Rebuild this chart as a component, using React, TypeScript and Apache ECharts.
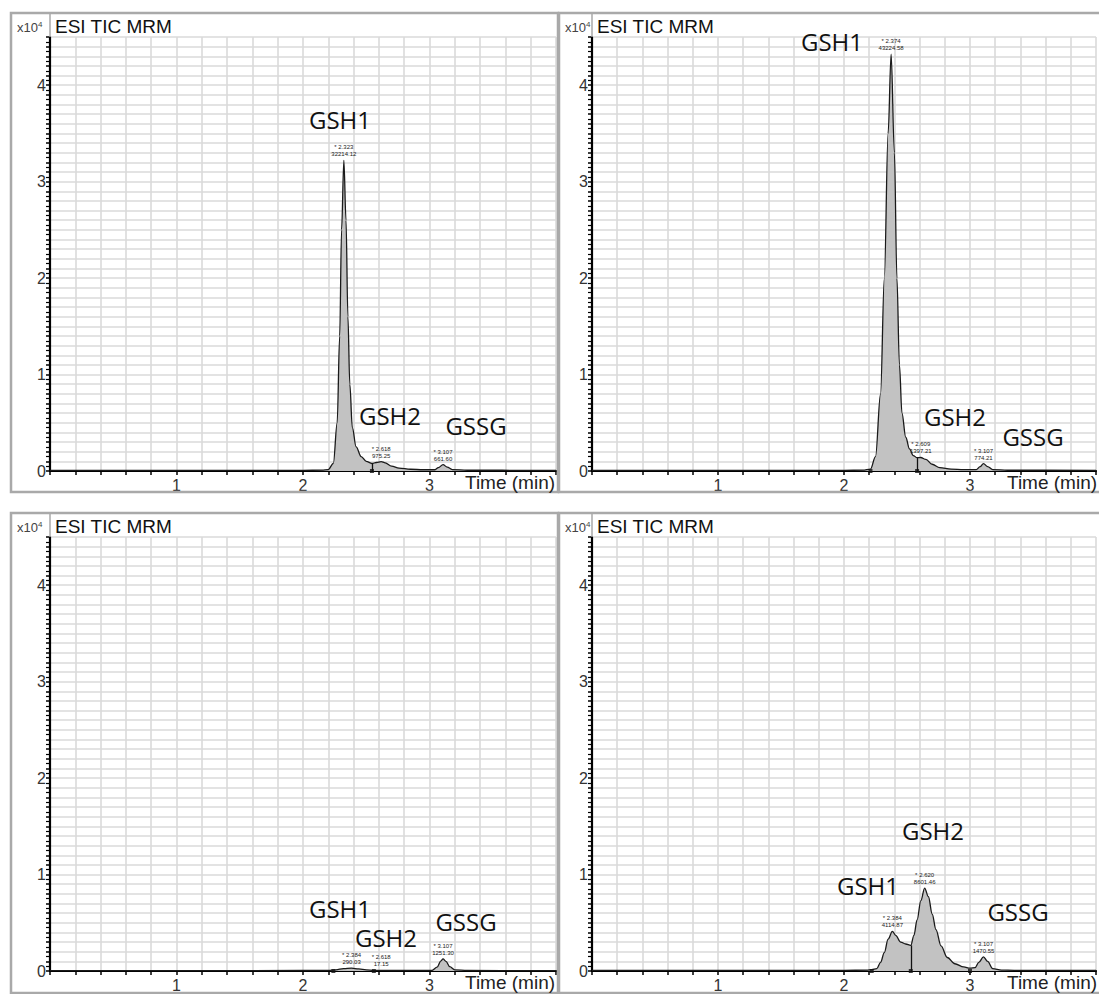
import React, { useEffect, useRef } from "react";
import * as echarts from "echarts";

// ---------- axis definitions ----------
const xMin = 0;
const xMax = 4;
const xStep = 0.2;
const xLabelValues = [1, 2, 3];
const yMin = 0;
const yMax = 45000;
const yStep = 1000;
const yLabelValues = [0, 10000, 20000, 30000, 40000];

// ---------- traces (time in min, counts) ----------
const trace1: [number, number][] = [
  [0.0, 60], [1.0, 60], [2.0, 70], [2.15, 90], [2.2, 150], [2.24, 800], [2.27, 5000],
  [2.29, 14000], [2.305, 25000], [2.323, 32214], [2.34, 26000], [2.355, 16000],
  [2.37, 9000], [2.39, 4500], [2.42, 2500], [2.46, 1500], [2.5, 1000], [2.545, 780],
  [2.58, 880], [2.618, 975], [2.65, 850], [2.7, 500], [2.76, 300], [2.85, 180],
  [2.95, 130], [3.04, 130], [3.07, 350], [3.107, 662], [3.14, 400], [3.18, 150],
  [3.3, 80], [4.0, 60],
];
const trace2: [number, number][] = [
  [0.0, 60], [1.0, 60], [2.0, 70], [2.15, 90], [2.21, 200], [2.25, 1500], [2.29, 8000],
  [2.32, 20000], [2.35, 35000], [2.374, 43225], [2.4, 33000], [2.42, 20000],
  [2.44, 11000], [2.46, 6000], [2.49, 3500], [2.52, 2300], [2.55, 1600], [2.58, 1380],
  [2.609, 1400], [2.65, 1200], [2.7, 700], [2.76, 350], [2.85, 200], [2.95, 150],
  [3.05, 150], [3.08, 450], [3.107, 774], [3.14, 450], [3.18, 150], [3.3, 80], [4.0, 60],
];
const trace3: [number, number][] = [
  [0.0, 40], [2.0, 50], [2.2, 60], [2.26, 120], [2.32, 250], [2.384, 290], [2.44, 220],
  [2.5, 120], [2.56, 70], [2.618, 60], [2.7, 50], [3.02, 60], [3.06, 400], [3.09, 1050],
  [3.107, 1251], [3.13, 1000], [3.16, 450], [3.2, 120], [3.3, 50], [4.0, 40],
];
const trace4: [number, number][] = [
  [0.0, 60], [2.0, 70], [2.18, 90], [2.22, 150], [2.26, 250], [2.29, 900], [2.32, 1900],
  [2.35, 3300], [2.384, 4115], [2.41, 3700], [2.45, 3000], [2.49, 2800], [2.53, 2650],
  [2.555, 3700], [2.58, 5300], [2.61, 7300], [2.64, 8601], [2.67, 7700], [2.7, 5900],
  [2.73, 4300], [2.77, 2600], [2.82, 1400], [2.88, 750], [2.95, 420], [3.0, 300],
  [3.04, 350], [3.07, 900], [3.107, 1470], [3.14, 1000], [3.18, 250], [3.25, 100],
  [3.35, 70], [4.0, 60],
];

// ---------- peak annotations: [time, height, label] ----------
const peaks1: [number, number, string][] = [
  [2.323, 32214, "* 2.323\n32214.12"], [2.618, 975, "* 2.618\n975.25"], [3.107, 662, "* 3.107\n661.60"],
];
const peaks2: [number, number, string][] = [
  [2.374, 43225, "* 2.374\n43224.58"], [2.609, 1400, "* 2.609\n1397.21"], [3.107, 774, "* 3.107\n774.21"],
];
const peaks3: [number, number, string][] = [
  [2.384, 290, "* 2.384\n290.03"], [2.618, 60, "* 2.618\n17.15"], [3.107, 1251, "* 3.107\n1251.30"],
];
const peaks4: [number, number, string][] = [
  [2.384, 4115, "* 2.384\n4114.87"], [2.64, 8601, "* 2.620\n8601.46"], [3.107, 1470, "* 3.107\n1470.55"],
];

// ---------- integration markers (baseline points) and drop lines ----------
const markers1 = [2.545];
const markers2 = [2.21, 2.58];
const markers3 = [2.24, 2.56];
const markers4 = [2.22, 2.53, 3.0];
const drops1: [number, number][] = [[2.545, 780]];
const drops2: [number, number][] = [[2.58, 1380]];
const drops3: [number, number][] = [];
const drops4: [number, number][] = [[2.53, 2650]];

// ---------- compound names ----------
const names = ["GSH1", "GSH2", "GSSG"];

const panels = [
  { trace: trace1, peaks: peaks1, markers: markers1, drops: drops1,
    grid: { left: 50, top: 37, width: 506, height: 434 }, frame: [11, 13, 547, 479],
    nameCenters: [[340, 119], [390, 415], [476, 425]] },
  { trace: trace2, peaks: peaks2, markers: markers2, drops: drops2,
    grid: { left: 592, top: 37, width: 514, height: 434 }, frame: [559, 13, 560, 479],
    nameCenters: [[832, 41], [955, 416], [1033, 436]] },
  { trace: trace3, peaks: peaks3, markers: markers3, drops: drops3,
    grid: { left: 50, top: 537, width: 506, height: 434 }, frame: [11, 513, 547, 480],
    nameCenters: [[340, 908], [386, 937], [466, 921]] },
  { trace: trace4, peaks: peaks4, markers: markers4, drops: drops4,
    grid: { left: 592, top: 537, width: 514, height: 434 }, frame: [559, 513, 560, 480],
    nameCenters: [[868, 885], [933, 830], [1018, 911]] },
];

const AXIS_FONT = "'Liberation Sans', Arial, sans-serif";
const isInt = (v: number) => Math.abs(v - Math.round(v)) < 1e-6;

export default function App() {
  const ref = useRef<HTMLDivElement>(null);
  useEffect(() => {
    if (!ref.current) return;
    const chart = echarts.init(ref.current, undefined, { renderer: "svg" });
    const grids: any[] = [];
    const xAxes: any[] = [];
    const yAxes: any[] = [];
    const series: any[] = [];
    const graphic: any[] = [];

    panels.forEach((p, i) => {
      grids.push({ ...p.grid, containLabel: false });
      xAxes.push({
        gridIndex: i, type: "value", min: xMin, max: xMax, interval: xStep,
        axisLine: { onZero: false, lineStyle: { color: "#000", width: 2.2 } },
        axisTick: { show: true, length: 4, lineStyle: { color: "#000", width: 1.5 } },
        axisLabel: {
          formatter: (v: number) =>
            isInt(v) && xLabelValues.includes(Math.round(v)) ? String(Math.round(v)) : "",
          fontSize: 16, color: "#333", margin: 6, fontFamily: AXIS_FONT,
        },
        splitLine: { show: true, lineStyle: { color: "#dadada", width: 1.6 } },
      });
      yAxes.push({
        gridIndex: i, type: "value", min: yMin, max: yMax, interval: yStep,
        axisLine: { show: true, onZero: false, lineStyle: { color: "#000", width: 2.2 } },
        axisTick: { show: true, length: 4, lineStyle: { color: "#000", width: 1.5 } },
        minorTick: { show: true, splitNumber: 2, length: 4, lineStyle: { color: "#000", width: 1.2 } },
        axisLabel: {
          formatter: (v: number) => (yLabelValues.includes(v) ? String(v / 10000) : ""),
          fontSize: 16, color: "#333", margin: 4, fontFamily: AXIS_FONT,
        },
        splitLine: { show: true, lineStyle: { color: "#dadada", width: 1.6 } },
      });
      series.push({
        type: "line", xAxisIndex: i, yAxisIndex: i, data: p.trace,
        showSymbol: false, smooth: 0.35, smoothMonotone: "x",
        lineStyle: { color: "#1a1a1a", width: 1.3 },
        areaStyle: { color: "#c2c2c2", opacity: 1 },
        z: 3,
        markPoint: {
          symbol: "circle", symbolSize: 1, itemStyle: { color: "rgba(0,0,0,0)" },
          label: {
            show: true, position: "top", distance: 2, fontSize: 6, lineHeight: 7,
            color: "#222", fontFamily: AXIS_FONT,
          },
          data: p.peaks.map(([t, h, txt]) => ({ coord: [t, h], value: h, label: { formatter: txt } })),
        },
        markLine: {
          symbol: "none", silent: true,
          lineStyle: { color: "#111", width: 1.3, type: "solid" },
          label: { show: false },
          data: p.drops.map(([t, h]) => [{ coord: [t, 0] }, { coord: [t, h] }]),
        },
      });
      series.push({
        type: "scatter", xAxisIndex: i, yAxisIndex: i,
        data: p.markers.map((t) => [t, 0]),
        symbol: "rect", symbolSize: 4, itemStyle: { color: "#111" }, z: 4,
      });

      const [fx, fy, fw, fh] = p.frame;
      graphic.push({
        type: "rect", shape: { x: fx, y: fy, width: fw, height: fh },
        style: { fill: "none", stroke: "#a9a9a9", lineWidth: 2.5 }, z: 10,
      });
      graphic.push({
        type: "line", shape: { x1: p.grid.left, y1: fy, x2: p.grid.left, y2: p.grid.top },
        style: { stroke: "#a9a9a9", lineWidth: 1.5 }, z: 10,
      });
      graphic.push({
        type: "text", left: fx + 6, top: fy + 7, z: 10,
        style: {
          text: "{a|x10}{b|4}",
          rich: {
            a: { fontSize: 13, fill: "#444", fontFamily: AXIS_FONT },
            b: { fontSize: 8, fill: "#444", fontFamily: AXIS_FONT, verticalAlign: "top", padding: [0, 0, 6, 0] },
          },
        },
      });
      graphic.push({
        type: "text", x: p.grid.left + 5, y: fy + 4, z: 10,
        style: { text: "ESI TIC MRM", fontSize: 19, fill: "#111", fontFamily: AXIS_FONT },
      });
      graphic.push({
        type: "text", x: p.grid.left + 415, y: p.grid.top + 436, z: 10,
        style: { text: "Time (min)", fontSize: 19, fill: "#222", fontFamily: AXIS_FONT },
      });
      p.nameCenters.forEach(([cx, cy], k) => {
        graphic.push({
          type: "text", x: cx, y: cy, z: 10,
          style: {
            text: names[k], fontSize: 24, fill: "#111", fontFamily: "'Open Sans', sans-serif",
            textAlign: "center", textVerticalAlign: "middle",
          },
        });
      });
    });

    chart.setOption({
      animation: false,
      backgroundColor: "#fff",
      grid: grids,
      xAxis: xAxes,
      yAxis: yAxes,
      series,
      graphic,
    });
    return () => chart.dispose();
  }, []);
  return (
    <div
      ref={ref}
      style={{ position: "absolute", left: 0, top: 0, width: 1099, height: 994, background: "#fff" }}
    />
  );
}
